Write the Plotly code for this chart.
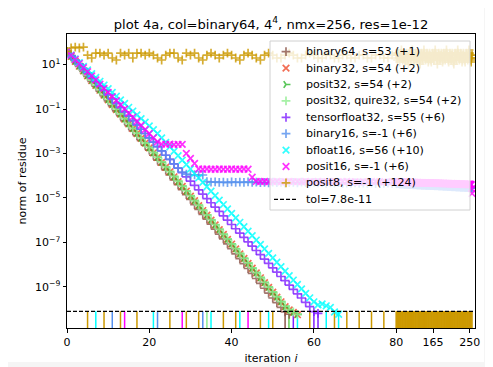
import plotly.graph_objects as go

# ---------------------------------------------------------------- data
TITLE = "plot 4a, col=binary64, 4<sup>4</sup>, nmx=256, res=1e-12"
X_TITLE = "iteration <i>i</i>"
Y_TITLE = "norm of residue"
TOL = 7.8e-11
TOL_LABEL = "tol=7.8e-11"

LABELS = [
    "binary64, s=53 (+1)",
    "binary32, s=54 (+2)",
    "posit32, s=54 (+2)",
    "posit32, quire32, s=54 (+2)",
    "tensorfloat32, s=55 (+6)",
    "binary16, s=-1 (+6)",
    "bfloat16, s=56 (+10)",
    "posit16, s=-1 (+6)",
    "posit8, s=-1 (+124)",
]

# log10 of the residue norm, one value per iteration (starting at iteration 0)
LOG_RES_BINARY64 = [
    1.60, 1.36, 1.13, 0.92, 0.70, 0.47, 0.25, 0.03, -0.19, -0.41,
    -0.63, -0.86, -1.08, -1.30, -1.52, -1.74, -1.97, -2.19, -2.41, -2.63,
    -2.85, -3.08, -3.30, -3.52, -3.74, -3.96, -4.19, -4.41, -4.63, -4.85,
    -5.07, -5.30, -5.52, -5.74, -5.96, -6.18, -6.41, -6.63, -6.85, -7.07,
    -7.29, -7.52, -7.74, -7.96, -8.18, -8.40, -8.63, -8.85, -9.07, -9.29,
    -9.51, -9.72, -9.93, -10.13, -10.24,
]
LOG_RES_BINARY32 = [
    1.60, 1.37, 1.15, 0.93, 0.72, 0.50, 0.28, 0.07, -0.15, -0.37,
    -0.58, -0.80, -1.02, -1.23, -1.45, -1.67, -1.88, -2.10, -2.32, -2.53,
    -2.75, -2.97, -3.18, -3.40, -3.62, -3.83, -4.05, -4.27, -4.48, -4.70,
    -4.92, -5.13, -5.35, -5.57, -5.78, -6.00, -6.22, -6.43, -6.65, -6.87,
    -7.08, -7.30, -7.52, -7.73, -7.95, -8.17, -8.38, -8.60, -8.82, -9.03,
    -9.25, -9.47, -9.68, -9.90, -10.05, -10.16, -10.26,
]
LOG_RES_POSIT32 = [
    1.60, 1.38, 1.16, 0.94, 0.73, 0.51, 0.29, 0.08, -0.14, -0.36,
    -0.57, -0.79, -1.01, -1.22, -1.44, -1.66, -1.87, -2.09, -2.31, -2.52,
    -2.74, -2.96, -3.17, -3.39, -3.61, -3.82, -4.04, -4.26, -4.47, -4.69,
    -4.91, -5.12, -5.34, -5.56, -5.77, -5.99, -6.21, -6.42, -6.64, -6.86,
    -7.07, -7.29, -7.51, -7.72, -7.94, -8.16, -8.37, -8.59, -8.81, -9.02,
    -9.24, -9.46, -9.67, -9.89, -10.04, -10.15, -10.25,
]
LOG_RES_POSIT32_QUIRE = [
    1.60, 1.38, 1.16, 0.95, 0.73, 0.52, 0.30, 0.08, -0.13, -0.35,
    -0.57, -0.78, -1.00, -1.22, -1.43, -1.65, -1.87, -2.08, -2.30, -2.52,
    -2.73, -2.95, -3.17, -3.38, -3.60, -3.82, -4.03, -4.25, -4.47, -4.68,
    -4.90, -5.12, -5.33, -5.55, -5.77, -5.98, -6.20, -6.42, -6.63, -6.85,
    -7.07, -7.28, -7.50, -7.72, -7.93, -8.15, -8.37, -8.58, -8.80, -9.02,
    -9.23, -9.45, -9.67, -9.88, -10.03, -10.14, -10.25,
]
LOG_RES_TENSORFLOAT32 = [
    1.60, 1.41, 1.21, 1.02, 0.82, 0.63, 0.43, 0.24, 0.04, -0.15,
    -0.35, -0.54, -0.74, -0.93, -1.13, -1.32, -1.52, -1.71, -1.91, -2.10,
    -2.30, -2.49, -2.69, -2.88, -3.08, -3.27, -3.47, -3.66, -3.86, -4.05,
    -4.25, -4.44, -4.64, -4.83, -5.03, -5.22, -5.42, -5.61, -5.81, -6.00,
    -6.20, -6.39, -6.59, -6.78, -6.98, -7.17, -7.37, -7.56, -7.76, -7.95,
    -8.15, -8.34, -8.54, -8.73, -8.93, -9.12, -9.32, -9.51, -9.71, -9.90,
    -10.12, -10.20,
]
LOG_RES_BINARY16 = [
    1.60, 1.41, 1.21, 1.02, 0.82, 0.63, 0.43, 0.24, 0.04, -0.15,
    -0.35, -0.54, -0.74, -0.93, -1.13, -1.32, -1.52, -1.71, -1.91, -2.10,
    -2.30, -2.49, -2.69, -2.88, -3.08, -3.27, -3.47, -3.66, -3.84, -3.93,
    -3.97, -3.96, -3.99, -3.97,
    -4.27, -4.29, -4.28, -4.30, -4.29, -4.31, -4.28, -4.30, -4.29, -4.30,
    -4.28, -4.30, -4.29, -4.31, -4.30, -4.32, -4.29, -4.31, -4.30, -4.33,
    -4.31, -4.30, -4.32, -4.29, -4.31, -4.33, -4.30, -4.32, -4.31, -4.34,
    -4.32, -4.33, -4.31, -4.34, -4.33, -4.35, -4.32, -4.34, -4.33, -4.35,
    -4.33, -4.36, -4.34, -4.35, -4.33, -4.36, -4.34, -4.37, -4.35, -4.36,
    -4.34, -4.36, -4.35, -4.37, -4.36, -4.38, -4.35, -4.37, -4.36, -4.38,
    -4.36, -4.37, -4.35, -4.38, -4.36, -4.39, -4.37, -4.38, -4.36, -4.39,
    -4.37, -4.38, -4.36, -4.39, -4.37, -4.40, -4.38, -4.39, -4.37, -4.40,
    -4.38, -4.39, -4.37, -4.40, -4.38, -4.41, -4.39, -4.40, -4.38, -4.41,
    -4.39, -4.40, -4.38, -4.41, -4.39, -4.42, -4.40, -4.41, -4.39, -4.42,
    -4.40, -4.41, -4.39, -4.42, -4.40, -4.43, -4.41, -4.42, -4.40, -4.43,
    -4.41, -4.42, -4.40, -4.43, -4.41, -4.44, -4.42, -4.43, -4.41, -4.44,
    -4.42, -4.43, -4.41, -4.44, -4.42, -4.45, -4.43, -4.44, -4.42, -4.45,
    -4.43, -4.44, -4.42, -4.45, -4.43, -4.46, -4.44, -4.45, -4.43, -4.46,
    -4.44, -4.45, -4.43, -4.46, -4.44, -4.47, -4.45, -4.46, -4.44, -4.47,
    -4.45, -4.46, -4.44, -4.47, -4.45, -4.48, -4.46, -4.47, -4.45, -4.48,
    -4.46, -4.47, -4.45, -4.48, -4.46, -4.49, -4.47, -4.48, -4.46, -4.49,
    -4.47, -4.48, -4.46, -4.49, -4.47, -4.50, -4.48, -4.49, -4.47, -4.50,
    -4.48, -4.49, -4.47, -4.50, -4.48, -4.51, -4.49, -4.50, -4.48, -4.51,
    -4.49, -4.50, -4.48, -4.51, -4.49, -4.52, -4.50, -4.51, -4.49, -4.52,
    -4.50, -4.51, -4.49, -4.52, -4.50, -4.53, -4.51, -4.52, -4.50, -4.53,
    -4.51, -4.52, -4.50, -4.53, -4.51, -4.54, -4.52, -4.53, -4.51, -4.54,
    -4.52, -4.56,
]
LOG_RES_BFLOAT16 = [
    1.60, 1.43, 1.26, 1.09, 0.92, 0.76, 0.59, 0.42, 0.25, 0.08,
    -0.08, -0.25, -0.42, -0.59, -0.75, -0.92, -1.09, -1.26, -1.43, -1.59,
    -1.76, -1.93, -2.10, -2.30, -2.50, -2.70, -2.90, -3.10, -3.30, -3.50,
    -3.70, -3.90, -4.10, -4.30, -4.50, -4.70, -4.90, -5.10, -5.30, -5.50,
    -5.70, -5.90, -6.10, -6.30, -6.50, -6.70, -6.90, -7.10, -7.30, -7.50,
    -7.70, -7.90, -8.10, -8.30, -8.50, -8.70, -8.90, -9.10, -9.30, -9.50,
    -9.68, -9.82, -9.78, -9.86, -9.93, -10.14, -10.24,
]
LOG_RES_POSIT16 = [
    1.60, 1.42, 1.23, 1.05, 0.86, 0.68, 0.49, 0.31, 0.12, -0.07,
    -0.25, -0.44, -0.62, -0.81, -0.99, -1.18, -1.36, -1.55, -1.73, -1.92,
    -2.10, -2.29, -2.47, -2.58, -2.59, -2.58, -2.60, -2.59, -2.59, -3.00,
    -3.22, -3.45, -3.70, -3.71, -3.70, -3.71, -3.71, -3.70, -3.71, -3.71,
    -3.70, -3.71, -3.71, -3.70, -3.71, -4.07,
    -4.26, -4.27, -4.26, -4.28, -4.27, -4.26, -4.28, -4.27, -4.26, -4.27,
    -4.27, -4.28, -4.26, -4.27, -4.28, -4.26, -4.27, -4.28, -4.27, -4.26,
    -4.28, -4.27, -4.26, -4.28, -4.27, -4.29, -4.27, -4.28, -4.26, -4.28,
    -4.27, -4.29, -4.28, -4.27, -4.29, -4.28, -4.27, -4.29, -4.28, -4.30,
    -4.28, -4.29, -4.27, -4.29, -4.28, -4.30, -4.28, -4.29, -4.28, -4.30,
    -4.29, -4.28, -4.30, -4.29, -4.28, -4.30, -4.29, -4.31, -4.29, -4.30,
    -4.29, -4.31, -4.30, -4.29, -4.31, -4.30, -4.29, -4.31, -4.30, -4.32,
    -4.30, -4.31, -4.29, -4.31, -4.30, -4.32, -4.30, -4.31, -4.30, -4.32,
    -4.31, -4.30, -4.32, -4.31, -4.30, -4.32, -4.31, -4.33, -4.31, -4.32,
    -4.31, -4.33, -4.32, -4.31, -4.33, -4.32, -4.31, -4.33, -4.32, -4.34,
    -4.32, -4.33, -4.31, -4.33, -4.32, -4.34, -4.32, -4.33, -4.32, -4.34,
    -4.33, -4.32, -4.34, -4.33, -4.32, -4.34, -4.33, -4.35, -4.33, -4.34,
    -4.33, -4.35, -4.34, -4.33, -4.35, -4.34, -4.33, -4.35, -4.34, -4.36,
    -4.34, -4.35, -4.33, -4.35, -4.34, -4.36, -4.34, -4.35, -4.34, -4.36,
    -4.35, -4.34, -4.36, -4.35, -4.34, -4.36, -4.35, -4.37, -4.35, -4.36,
    -4.35, -4.37, -4.36, -4.35, -4.37, -4.36, -4.35, -4.37, -4.36, -4.38,
    -4.36, -4.37, -4.35, -4.37, -4.36, -4.38, -4.36, -4.37, -4.36, -4.38,
    -4.37, -4.36, -4.38, -4.37, -4.36, -4.38, -4.37, -4.39, -4.37, -4.38,
    -4.37, -4.39, -4.38, -4.37, -4.39, -4.38, -4.37, -4.39, -4.38, -4.40,
    -4.38, -4.39, -4.37, -4.39, -4.38, -4.40, -4.38, -4.39, -4.38, -4.40,
    -4.39, -4.38, -4.40, -4.39, -4.38, -4.40, -4.39, -4.41, -4.58, -4.80,
]
LOG_RES_POSIT8 = [
    1.60, 1.75, 1.79, 1.75, 1.79, 1.43, 1.30, 1.52, 1.52, 1.43,
    1.52, 1.30, 1.21, 1.52, 1.43, 1.52, 1.30, 1.52, 1.52, 1.43,
    1.52, 1.43, 1.30, 1.21, 1.43, 1.52, 1.52, 1.30, 1.21, 1.52,
    1.43, 1.52, 1.30, 1.21, 1.43, 1.52, 1.43, 1.30, 1.43, 1.52,
    1.43, 1.30, 1.21, 1.43, 1.52, 1.43, 1.30, 1.21, 1.43, 1.52,
    1.43, 1.30, 1.30, 1.43, 1.52, 1.43, 1.30, 1.30, 1.43, 1.52,
    1.43, 1.30, 1.30, 1.43, 1.43, 1.30, 1.30, 1.43, 1.43, 1.30,
    1.30, 1.43, 1.43, 1.30, 1.30, 1.43, 1.43, 1.30, 1.30, 1.43,
    1.52, 1.43, 1.30, 1.21, 1.43, 1.52, 1.43, 1.30, 1.12, 1.30, 1.43, 1.52, 1.66, 1.43, 1.30, 1.21,
    1.30, 1.43, 1.52, 1.43, 1.30, 1.12, 1.21, 1.43, 1.52, 1.43, 1.30, 1.21, 1.02, 1.30, 1.43, 1.52,
    1.43, 1.30, 1.21, 1.43, 1.52, 1.66, 1.52, 1.43, 1.30, 1.21, 1.12, 1.30, 1.43, 1.52, 1.43, 1.30,
    1.21, 1.30, 1.43, 1.52, 1.43, 1.30, 1.12, 1.02, 1.21, 1.43, 1.52, 1.43, 1.30, 1.21, 1.43, 1.52,
    1.66, 1.52, 1.43, 1.30, 1.21, 1.30, 1.43, 1.52, 1.43, 1.30, 1.12, 1.21, 1.43, 1.52, 1.43, 1.30,
    1.21, 1.12, 1.30, 1.43, 1.52, 1.43, 1.30, 1.21, 1.43, 1.52, 1.66, 1.52, 1.43, 1.30, 1.21, 1.02,
    1.21, 1.43, 1.52, 1.43, 1.30, 1.21, 1.30, 1.43, 1.52, 1.43, 1.30, 1.12, 1.21, 1.43, 1.52, 1.43,
    1.30, 1.21, 1.43, 1.52, 1.66, 1.52, 1.43, 1.30, 1.21, 1.12, 1.30, 1.43, 1.52, 1.43, 1.30, 1.21,
    1.43, 1.52, 1.43, 1.30, 1.12, 1.02, 1.21, 1.43, 1.52, 1.43, 1.30, 1.21, 1.43, 1.52, 1.66, 1.52,
    1.43, 1.30, 1.21, 1.30, 1.43, 1.52, 1.43, 1.30, 1.12, 1.21, 1.43, 1.52, 1.43, 1.30, 1.21, 1.12,
    1.30, 1.43, 1.52, 1.43, 1.30, 1.21, 1.43, 1.52, 1.66, 1.52, 1.43, 1.30, 1.21, 1.12, 1.30, 1.43,
]

# iterations marked by the short ticks along the bottom of the axes
RUG_BINARY64 = [53]
RUG_BINARY32 = [54]
RUG_POSIT32 = [54]
RUG_POSIT32_QUIRE = [34, 54]
RUG_TENSORFLOAT32 = [55, 60, 61]
RUG_BINARY16 = [11, 22, 33, 133, 228]
RUG_BFLOAT16 = [7, 21, 35, 42, 49, 56, 63, 66]
RUG_POSIT16 = [14, 28, 44, 142, 236, 249]
RUG_POSIT8 = [
    5, 9, 13, 17, 25, 29, 32, 38, 41, 47, 50, 59, 65, 68, 71, 74, 77,
    80, 81, 83, 85, 86, 88, 90, 91, 93, 95, 96, 98, 100, 101, 103, 105, 106,
    108, 110, 111, 113, 115, 116, 118, 120, 121, 123, 125, 126, 128, 130,
    131, 133, 135, 136, 138, 140, 141, 143, 145, 146, 148, 150, 151, 153,
    155, 156, 158, 160, 161, 163, 165, 166, 168, 170, 171, 173, 175, 176,
    178, 180, 181, 183, 185, 186, 188, 190, 191, 193, 195, 196, 198, 200,
    201, 203, 205, 206, 208, 210, 211, 213, 215, 216, 218, 220, 221, 223,
    225, 226, 228, 230, 231, 233, 235, 236, 238, 240, 241, 243, 245, 246,
    248, 250, 251, 253, 255,
]

X_TICK_ITERS = [0, 20, 40, 60, 80, 165, 250]
Y_TICK_EXPONENTS = [1, -1, -3, -5, -7, -9]

SERIES = [
    (LABELS[0], LOG_RES_BINARY64, RUG_BINARY64),
    (LABELS[1], LOG_RES_BINARY32, RUG_BINARY32),
    (LABELS[2], LOG_RES_POSIT32, RUG_POSIT32),
    (LABELS[3], LOG_RES_POSIT32_QUIRE, RUG_POSIT32_QUIRE),
    (LABELS[4], LOG_RES_TENSORFLOAT32, RUG_TENSORFLOAT32),
    (LABELS[5], LOG_RES_BINARY16, RUG_BINARY16),
    (LABELS[6], LOG_RES_BFLOAT16, RUG_BFLOAT16),
    (LABELS[7], LOG_RES_POSIT16, RUG_POSIT16),
    (LABELS[8], LOG_RES_POSIT8, RUG_POSIT8),
]

# ---------------------------------------------------------------- style
COLORS = ["#8c564b", "#f04a2a", "#2eb82e", "#90ee90", "#7f1fff",
          "#5590ee", "#00ffff", "#ff00ff", "#cc9900"]
SYMBOLS = ["cross-thin", "x-thin", "y-right", "cross-thin", "cross-thin",
           "cross-thin", "x-thin", "x-thin", "cross-thin"]
SIZES = {"cross-thin": 6.3, "x-thin": 6.6, "y-right": 5.6}
MARKER_LW = 1.7
FONT = "DejaVu Sans"
TICK_FS, LEG_FS, TITLE_FS = 11.0, 11.1, 13.1
# the page places the figure 8 px from its top-left corner
OFF = 8
FIG_W, FIG_H = 493 - OFF, 367 - OFF
PL, PR, PT, PB = 67 - OFF, 475 - OFF, 34 - OFF, 328 - OFF   # plot area (figure px)
Y_RANGE = [-10.86, 2.38]
X_RANGE = [0, 99.15]
BREAK_AT = 80
COMPRESS = 0.1053


def xt(i):
    """Broken x scale: linear up to 80, compressed beyond."""
    return i if i <= BREAK_AT else BREAK_AT + (i - BREAK_AT) * COMPRESS


fig = go.Figure()

# rug ticks at the bottom
for (label, vals, rug), color in zip(SERIES, COLORS):
    xs, ys = [], []
    for it in rug:
        xs += [xt(it), xt(it), None]
        ys += [10 ** Y_RANGE[0], TOL, None]
    fig.add_trace(go.Scatter(x=xs, y=ys, mode="lines", showlegend=False,
                             line=dict(color=color, width=1.5), hoverinfo="skip"))

# residue markers
for (label, vals, rug), color, sym in zip(SERIES, COLORS, SYMBOLS):
    fig.add_trace(go.Scatter(
        x=[xt(i) for i in range(len(vals))],
        y=[10 ** v for v in vals],
        mode="markers", name=label, showlegend=False,
        marker=dict(symbol=sym, size=SIZES[sym], color=color, opacity=0.8,
                    line=dict(color=color, width=MARKER_LW)),
    ))

# tolerance line
fig.add_trace(go.Scatter(x=[X_RANGE[0], X_RANGE[1]], y=[TOL, TOL], mode="lines",
                         name=TOL_LABEL, showlegend=False,
                         line=dict(color="black", width=1.2, dash="4px,2px")))

# ------------------------------------------- legend drawn on a pixel overlay
LEG_L, LEG_R, LEG_T, LEG_B = 270 - OFF, 470 - OFF, 41 - OFF, 210 - OFF
ROW0, ROW_STEP = 51.7 - OFF, 16.4
SYM_X, TXT_X = 286 - OFF, 304 - OFF


def px(xp):
    return xp - PL


def py(yp):
    return yp - PT


fig.add_trace(go.Scatter(
    x=[px(LEG_L), px(LEG_R), px(LEG_R), px(LEG_L), px(LEG_L)],
    y=[py(LEG_T), py(LEG_T), py(LEG_B), py(LEG_B), py(LEG_T)],
    xaxis="x2", yaxis="y2", mode="lines", fill="toself",
    fillcolor="rgba(255,255,255,0.8)", line=dict(color="#d0d0d0", width=1),
    showlegend=False, hoverinfo="skip"))

for k, ((label, vals, rug), color, sym) in enumerate(zip(SERIES, COLORS, SYMBOLS)):
    fig.add_trace(go.Scatter(
        x=[px(SYM_X)], y=[py(ROW0 + k * ROW_STEP)], xaxis="x2", yaxis="y2",
        mode="markers", showlegend=False, hoverinfo="skip",
        marker=dict(symbol=sym, size=SIZES[sym], color=color, opacity=0.8,
                    line=dict(color=color, width=MARKER_LW))))

k_tol = len(SERIES)
fig.add_trace(go.Scatter(
    x=[px(SYM_X - 12), px(SYM_X + 10)], y=[py(ROW0 + k_tol * ROW_STEP)] * 2,
    xaxis="x2", yaxis="y2", mode="lines", showlegend=False, hoverinfo="skip",
    line=dict(color="black", width=1.2, dash="4px,2px")))

annotations = []
for k, txt in enumerate(LABELS + [TOL_LABEL]):
    annotations.append(dict(
        x=px(TXT_X), y=py(ROW0 + k * ROW_STEP), xref="x2", yref="y2",
        text=txt, showarrow=False, xanchor="left", yanchor="middle",
        font=dict(family=FONT, size=LEG_FS, color="black")))

axis_common = dict(showgrid=False, zeroline=False, showline=True, linecolor="black",
                   linewidth=1, mirror=True, ticks="outside", ticklen=3.5,
                   tickwidth=1, tickcolor="black",
                   tickfont=dict(family=FONT, size=TICK_FS, color="black"))

fig.update_layout(
    width=FIG_W, height=FIG_H,
    margin=dict(l=PL, r=FIG_W - PR, t=PT, b=FIG_H - PB, autoexpand=False),
    paper_bgcolor="#f5f5f5", plot_bgcolor="white",
    showlegend=False,
    annotations=annotations,
    title=dict(text=TITLE, x=(PL + PR) / 2 / FIG_W, xanchor="center",
               y=1 - (24 - OFF) / FIG_H, yanchor="middle",
               font=dict(family=FONT, size=TITLE_FS, color="black")),
    xaxis=dict(range=X_RANGE, tickvals=[xt(v) for v in X_TICK_ITERS],
               ticktext=[str(v) for v in X_TICK_ITERS],
               title=dict(text=X_TITLE, font=dict(family=FONT, size=TICK_FS, color="black"),
                          standoff=6),
               **axis_common),
    yaxis=dict(type="log", range=Y_RANGE,
               tickvals=[10 ** e for e in Y_TICK_EXPONENTS],
               ticktext=["10<sup>%s</sup>" % (str(e).replace("-", "\u2212"))
                         for e in Y_TICK_EXPONENTS],
               title=dict(text=Y_TITLE, font=dict(family=FONT, size=TICK_FS, color="black"),
                          standoff=6),
               **axis_common),
    xaxis2=dict(overlaying="x", range=[0, PR - PL], visible=False, fixedrange=True),
    yaxis2=dict(overlaying="y", range=[PB - PT, 0], visible=False, fixedrange=True),
    shapes=[dict(type="rect", xref="paper", yref="paper", layer="below",
                 x0=(0 - PL) / (PR - PL), x1=(476 - PL) / (PR - PL),
                 y0=(PB - 354) / (PB - PT), y1=(PB - 0) / (PB - PT),
                 fillcolor="white", line=dict(width=0))],
)

fig.write_html("out.html")
